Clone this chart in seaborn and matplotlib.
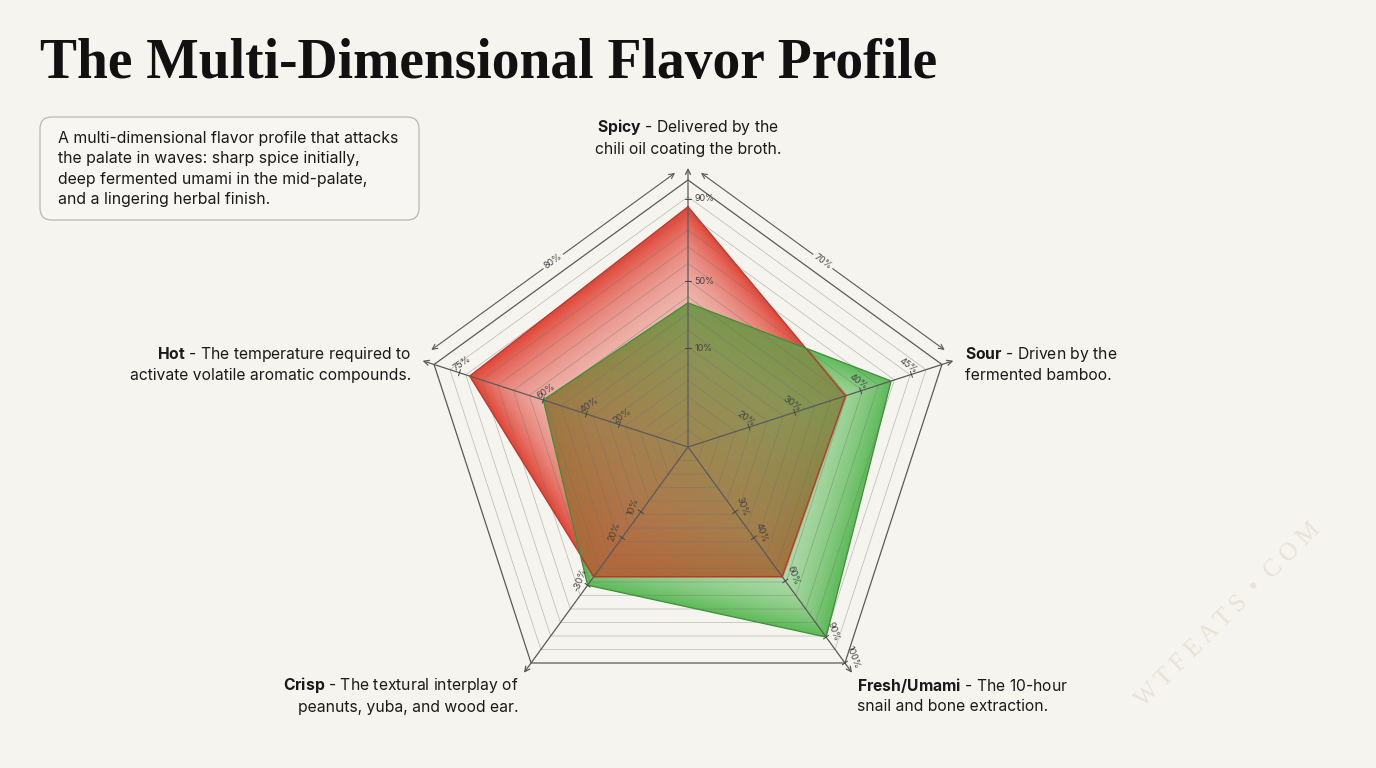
import numpy as np
import pandas as pd
import seaborn as sns
import matplotlib.pyplot as plt
from matplotlib.patches import Polygon, FancyBboxPatch

# Flavor dimensions (clockwise from top)
dimensions = ["Spicy", "Sour", "Fresh/Umami", "Crisp", "Hot"]
dimension_notes = [
    "Delivered by the\nchili oil coating the broth.",
    "Driven by the\nfermented bamboo.",
    "The 10-hour\nsnail and bone extraction.",
    "The textural interplay of\npeanuts, yuba, and wood ear.",
    "The temperature required to\nactivate volatile aromatic compounds.",
]

# Two overlapping profiles (share of scale, 0-1)
attack_values = [0.90, 0.62, 0.60, 0.60, 0.86]   # red
finish_values = [0.54, 0.80, 0.88, 0.64, 0.57]   # green

# Axis tick labels
spicy_ticks = ["90%", "50%", "10%"]
spicy_tick_pos = [0.93, 0.62, 0.37]
sour_ticks = ["45%", "40%", "30%", "20%"]
sour_tick_pos = [0.88, 0.68, 0.42, 0.24]
fresh_ticks = ["100%", "90%", "60%", "40%", "30%"]
fresh_tick_pos = [1.0, 0.88, 0.62, 0.42, 0.30]
crisp_ticks = ["-30%", "20%", "10%"]
crisp_tick_pos = [0.64, 0.42, 0.30]
hot_ticks = ["75%", "60%", "40%", "20%"]
hot_tick_pos = [0.90, 0.57, 0.40, 0.27]
edge_labels = ["80%", "70%"]

title = "The Multi-Dimensional Flavor Profile"
description = ("A multi-dimensional flavor profile that attacks\n"
               "the palate in waves: sharp spice initially,\n"
               "deep fermented umami in the mid-palate,\n"
               "and a lingering herbal finish.")

BG = "#f5f4ef"
W, H = 1376, 768
CX, CY, R = 688, 447, 267   # chart centre and radius in pixels

sns.set_theme(style="white")
plt.rcParams["font.family"] = ["Inter", "DejaVu Sans"]
plt.rcParams["mathtext.fontset"] = "custom"
plt.rcParams["mathtext.rm"] = "Inter"
plt.rcParams["mathtext.bf"] = "Inter:bold"

fig = plt.figure(figsize=(W / 100, H / 100), dpi=100, facecolor=BG)
ax = fig.add_axes([0, 0, 1, 1])
ax.set_facecolor(BG)
ax.set_xlim(-CX / R, (W - CX) / R)
ax.set_ylim(-(H - CY) / R, CY / R)
ax.axis("off")


def px(x, y):
    # pixel position (from top-left) -> data coords
    return (x - CX) / R, (CY - y) / R


angles = np.deg2rad(90 - 72 * np.arange(len(dimensions)))


def vertices(vals):
    vals = np.asarray(vals, dtype=float)
    return np.column_stack([vals * np.cos(angles), vals * np.sin(angles)])


# ---- gradient fills ----
gx = np.linspace(-1.1, 1.1, 900)
gy = np.linspace(-1.0, 1.05, 860)
X, Y = np.meshgrid(gx, gy)
TH = np.arctan2(Y, X)
RR = np.hypot(X, Y)


def rel_radius(vals):
    pts = vertices(vals)
    ux, uy = np.cos(TH), np.sin(TH)
    rpoly = np.full(X.shape, np.inf)
    for i in range(len(pts)):
        p, q = pts[i], pts[(i + 1) % len(pts)]
        e = q - p
        den = ux * e[1] - uy * e[0]
        with np.errstate(divide="ignore", invalid="ignore"):
            t = (p[0] * e[1] - p[1] * e[0]) / den
            s = (p[0] * uy - p[1] * ux) / den
        ok = (s >= -1e-9) & (s <= 1 + 1e-9) & (t > 0)
        rpoly = np.where(ok, np.minimum(rpoly, t), rpoly)
    return RR / rpoly


rel_red = rel_radius(attack_values)
rel_green = rel_radius(finish_values)
extent = [gx[0], gx[-1], gy[0], gy[-1]]


def layer(rgba, clip_vals, z):
    patch = Polygon(vertices(clip_vals), closed=True, fill=False,
                    edgecolor="none")
    ax.add_patch(patch)
    im = ax.imshow(rgba, extent=extent, origin="lower", interpolation="bilinear",
                   zorder=z, aspect="auto")
    im.set_clip_path(patch)


def solid(rgb, alpha):
    img = np.zeros(X.shape + (4,))
    img[..., :3] = rgb
    img[..., 3] = np.clip(alpha, 0, 1)
    return img


red_alpha = np.where(rel_red <= 1.02, 0.25 + 0.72 * np.clip(rel_red, 0, 1) ** 4, 0)
layer(solid((0.88, 0.25, 0.19), red_alpha), attack_values, 2)

green_alpha = np.where(rel_green <= 1.02, 0.3 + 0.65 * np.clip(rel_green, 0, 1) ** 4, 0)
layer(solid((0.33, 0.72, 0.31), green_alpha), finish_values, 2.1)

# overlap: olive towards the upper right, rust towards the lower left
both = (rel_red <= 1.01) & (rel_green <= 1.01)
s = np.clip(0.55 + 0.9 * Y + 0.7 * X, 0, 1)[..., None]
olive = np.array([0.50, 0.57, 0.30])
rust = np.array([0.72, 0.38, 0.22])
ov = np.zeros(X.shape + (4,))
ov[..., :3] = rust * (1 - s) + olive * s
ov[..., 3] = np.where(both, 0.85, 0)
layer(ov, finish_values, 2.2)

# ---- grid rings and spokes ----
for lvl in np.arange(1, 17) / 16:
    ring = vertices([lvl] * 5)
    ring = np.vstack([ring, ring[:1]])
    if lvl == 1:
        ax.plot(ring[:, 0], ring[:, 1], color="#5a5a5a", lw=0.9, zorder=3)
    else:
        ax.plot(ring[:, 0], ring[:, 1], color="#6f6f6f", lw=0.5, alpha=0.45, zorder=3)

for a in angles:
    ax.annotate("", xy=(1.045 * np.cos(a), 1.045 * np.sin(a)), xytext=(0, 0),
                arrowprops=dict(arrowstyle="->", lw=0.9, color="#5a5a5a",
                                shrinkA=0, shrinkB=0, mutation_scale=9),
                zorder=3.5)

# dimension lines along the two upper edges
outer = vertices([1] * 5)
for (i, j), lab in zip([(4, 0), (0, 1)], edge_labels):
    p, q = outer[i], outer[j]
    mid = (p + q) / 2
    nrm = mid / np.hypot(*mid)
    off = 0.05
    p2, q2 = p + nrm * off, q + nrm * off
    d = (q2 - p2)
    p2, q2 = p2 + 0.02 * d, q2 - 0.02 * d
    ax.annotate("", xy=q2, xytext=p2,
                arrowprops=dict(arrowstyle="<->", lw=0.8, color="#5a5a5a",
                                shrinkA=0, shrinkB=0, mutation_scale=9), zorder=3)
    rot = np.degrees(np.arctan2(d[1], d[0]))
    m = (p2 + q2) / 2
    ax.text(m[0], m[1], lab, rotation=rot, ha="center", va="center",
            fontsize=6.5, color="#444444", zorder=4,
            bbox=dict(facecolor=BG, edgecolor="none", pad=1.5))

# ---- series outlines ----
for vals, col in [(attack_values, "#b8382a"), (finish_values, "#3f8f3a")]:
    v = vertices(vals)
    outline = pd.DataFrame({"x": np.r_[v[:, 0], v[0, 0]],
                            "y": np.r_[v[:, 1], v[0, 1]]})
    sns.lineplot(data=outline, x="x", y="y", sort=False, estimator=None,
                 color=col, lw=0.9, ax=ax, zorder=4)
ax.set_xlabel("")
ax.set_ylabel("")

# ---- axis tick labels ----
tick_sets = [(spicy_ticks, spicy_tick_pos, 0),
             (sour_ticks, sour_tick_pos, -35),
             (fresh_ticks, fresh_tick_pos, -70),
             (crisp_ticks, crisp_tick_pos, 70),
             (hot_ticks, hot_tick_pos, 35)]
for k, (labs, pos, rot) in enumerate(tick_sets):
    a = angles[k]
    u = np.array([np.cos(a), np.sin(a)])
    perp = np.array([-u[1], u[0]])
    for lab, r in zip(labs, pos):
        base = u * r
        ax.plot([base[0] - perp[0] * 0.012, base[0] + perp[0] * 0.012],
                [base[1] - perp[1] * 0.012, base[1] + perp[1] * 0.012],
                color="#444444", lw=0.7, zorder=4)
        if k == 0:
            ax.text(base[0] + 0.025, base[1], lab, fontsize=6.5, color="#444444",
                    ha="left", va="center", zorder=5)
        else:
            tp = base + perp * (0.035 if k in (1, 2) else -0.035)
            ax.text(tp[0], tp[1], lab, fontsize=6.5, color="#444444", rotation=rot,
                    ha="center", va="center", zorder=5)

# ---- dimension labels ----
label_pos = [(688, 137, "center"), (965, 364, "left"), (857, 695, "left"),
             (519, 695, "right"), (411, 364, "right")]
for name, note, (x, y, ha) in zip(dimensions, dimension_notes, label_pos):
    first, rest = note.split("\n")
    txt = r"$\mathbf{" + name + "}$" + " - " + first + "\n" + rest
    ax.text(*px(x, y), txt, ha=ha, va="center", fontsize=11.3, color="#1a1a1a",
            linespacing=1.4, zorder=6)

# ---- title, description box, watermark ----
ax.text(*px(40, 78), title, fontsize=40, fontweight="bold",
        family="Liberation Serif", color="#111111", ha="left", va="baseline")

bx0, by0 = px(40, 220)
box = FancyBboxPatch((bx0, by0), 379 / R, 103 / R,
                     boxstyle=f"round,pad=0,rounding_size={12 / R}",
                     facecolor="#f7f6f2", edgecolor="#b9b8b2", lw=0.9, zorder=5)
ax.add_patch(box)
ax.text(*px(58, 169), description, fontsize=11.4, color="#1a1a1a",
        ha="left", va="center", linespacing=1.42, zorder=6)

ax.text(*px(1228, 615), "W T F E A T S  \u2022  C O M", rotation=45,
        fontsize=18, family="Liberation Serif", color="#e7e3d7",
        ha="center", va="center", zorder=1)

fig.savefig("out.png", dpi=100, facecolor=BG)
